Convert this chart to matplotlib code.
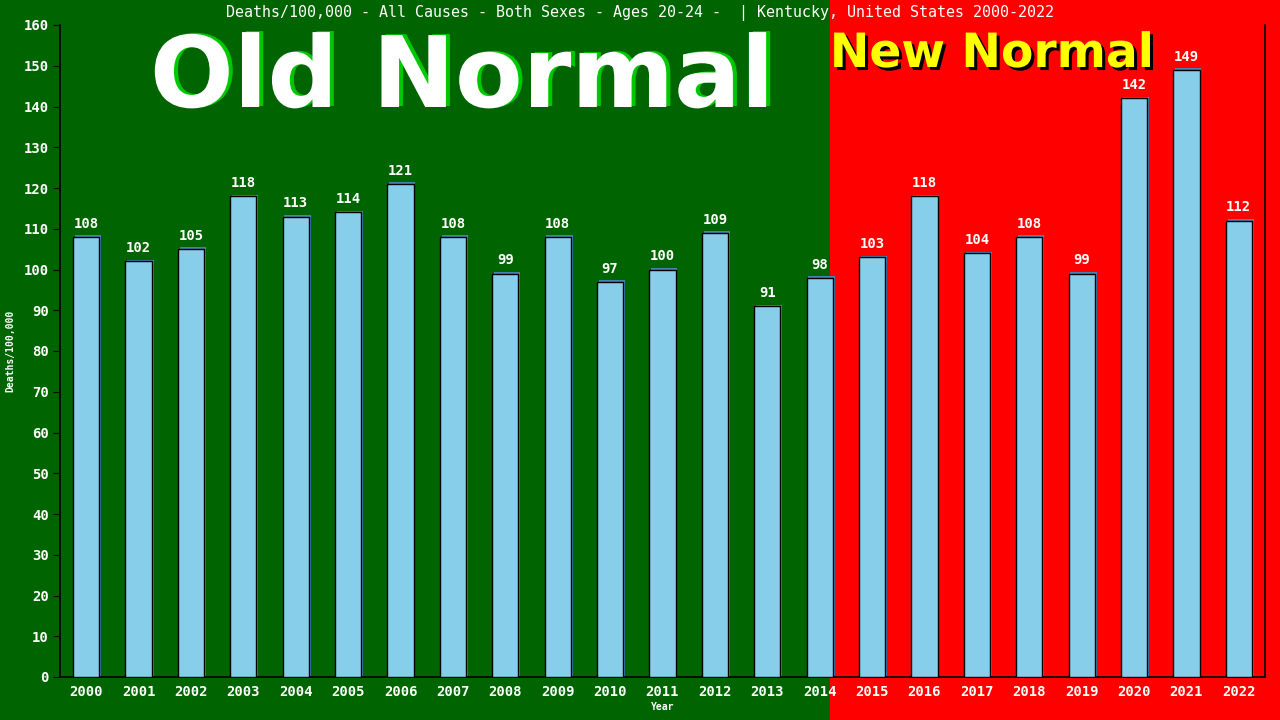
import matplotlib
matplotlib.use('Agg')
import matplotlib.pyplot as plt
import matplotlib.patheffects as pe
from matplotlib.patches import Rectangle

# Data
years = [str(y) for y in range(2000, 2023)]
deaths = [108, 102, 105, 118, 113, 114, 121, 108, 99, 108, 97, 100,
          109, 91, 98, 103, 118, 104, 108, 99, 142, 149, 112]
y_ticks = list(range(0, 161, 10))

title = "Deaths/100,000 - All Causes - Both Sexes - Ages 20-24 -  | Kentucky, United States 2000-2022"

mono = 'DejaVu Sans Mono'

fig = plt.figure(figsize=(12.8, 7.2), dpi=100)
fig.patch.set_facecolor('#006400')

# red "new normal" part of the background
fig.patches.append(Rectangle((830 / 1280, 0), 1 - 830 / 1280, 1, transform=fig.transFigure,
                             facecolor='#ff0000', edgecolor='none', zorder=-5))

ax = fig.add_axes([60 / 1280, 43 / 720, 1205 / 1280, 652 / 720])
ax.patch.set_alpha(0)

x = list(range(len(years)))

# shadow behind bars
ax.bar([i + 0.035 for i in x], [d + 0.4 for d in deaths], width=0.5, color='#4682b4', zorder=2)
ax.bar(x, deaths, width=0.5, color='#87ceeb', edgecolor='black', linewidth=1, zorder=3)

for i, d in zip(x, deaths):
    ax.text(i, d + 1.5, str(d), ha='center', va='bottom', color='white',
            fontsize=10, family=mono, fontweight='bold', zorder=4)

ax.set_xlim(-0.5, len(years) - 0.5)
ax.set_ylim(0, 160)
ax.set_xticks(x)
ax.set_xticklabels(years, family=mono, fontsize=10, color='white', fontweight='bold')
ax.set_yticks(y_ticks)
ax.set_yticklabels([str(t) for t in y_ticks], family=mono, fontsize=10, color='white',
                   fontweight='bold')
ax.tick_params(axis='x', length=0, pad=6)
ax.tick_params(axis='y', length=5, color='black', pad=3)

ax.spines['top'].set_visible(False)
for s in ['left', 'bottom', 'right']:
    ax.spines[s].set_color('black')
    ax.spines[s].set_linewidth(1.2)

ax.set_xlabel('Year', family=mono, fontsize=7, color='white', fontweight='bold', labelpad=2)
ax.set_ylabel('Deaths/100,000', family=mono, fontsize=7, color='white', fontweight='bold', labelpad=6)

fig.text(0.5, 1 - 13 / 720, title, ha='center', va='center', color='white',
         fontsize=10.8, family=mono)

# big labels with drop shadows (offsets in points)
fig.text(462 / 1280, 1 - 107 / 720, 'Old Normal', ha='center', va='baseline', color='white',
         fontsize=71, family='DejaVu Sans', fontweight='bold',
         path_effects=[pe.SimplePatchShadow(offset=(2.9, 0.7), shadow_rgbFace='#00c800', alpha=1),
                       pe.Normal()])
fig.text(992 / 1280, 1 - 67 / 720, 'New Normal', ha='center', va='baseline', color='#ffff00',
         fontsize=34, family='DejaVu Sans', fontweight='bold',
         path_effects=[pe.SimplePatchShadow(offset=(2.2, -2.2), shadow_rgbFace='black', alpha=1),
                       pe.Normal()])

fig.savefig('out.png', dpi=100, facecolor=fig.get_facecolor())
